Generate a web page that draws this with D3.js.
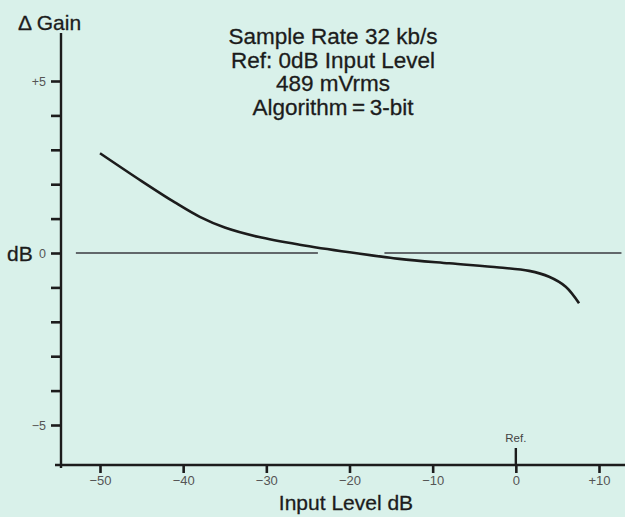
<!DOCTYPE html>
<html><head><meta charset="utf-8">
<script src="https://cdn.jsdelivr.net/npm/d3@7"></script>
<style>
html,body{margin:0;padding:0;background:#d9f1ea;}
svg{display:block;}
text{font-family:"Liberation Sans",Arial,Helvetica,sans-serif;}
</style></head>
<body>
<script>
// ---- data ----
const inputLevel = [-50, -45, -41, -38, -35, -31, -26, -20, -14, -8, -2, 1.6, 4, 6, 7.6];
const deltaGain  = [2.9, 2.09, 1.47, 1.05, 0.74, 0.47, 0.24, 0.02, -0.17, -0.3, -0.42, -0.52, -0.69, -0.98, -1.46];
const zeroSegments = [[-52.9, -23.8], [-15.8, 12.7]];
const xTicks = [-50, -40, -30, -20, -10, 0, 10];
const xTickLabels = ["\u221250", "\u221240", "\u221230", "\u221220", "\u221210", "0", "+10"];
const yTicks = [-5, -4, -3, -2, -1, 0, 1, 2, 3, 4, 5];
const yTickLabels = {"5": "+5", "0": "0", "-5": "\u22125"};
const titleLines = ["Sample Rate 32 kb/s", "Ref: 0dB Input Level", "489 mVrms", "Algorithm\u2009=\u20093-bit"];

// ---- layout ----
const W = 625, H = 517;
const svg = d3.select("body").append("svg").attr("width", W).attr("height", H);
svg.append("rect").attr("width", W).attr("height", H).attr("fill", "#d9f1ea");

const x = d3.scaleLinear().domain([-50, 10]).range([100, 599]);
const y = d3.scaleLinear().domain([-5, 5]).range([425, 81]);
const axisX = 61, axisY = 465;
const ink = "#1c1c1c";

// zero reference line
svg.selectAll("line.zero").data(zeroSegments).enter().append("line")
  .attr("x1", d => x(d[0])).attr("x2", d => x(d[1]))
  .attr("y1", y(0)).attr("y2", y(0))
  .attr("stroke", "#3a3a40").attr("stroke-width", 1.6);

// y axis
const yAxis = d3.axisLeft(y).tickValues(yTicks).tickSize(10).tickPadding(5)
  .tickFormat(d => yTickLabels[String(d)] || "");
const gy = svg.append("g").attr("transform", `translate(${axisX},0)`).call(yAxis);
gy.select(".domain").remove();
gy.selectAll(".tick line").attr("stroke", ink).attr("stroke-width", 2.6);
gy.selectAll(".tick text").attr("font-size", 12.5).attr("fill", "#555");
svg.append("line").attr("x1", axisX).attr("x2", axisX).attr("y1", 33).attr("y2", 468)
  .attr("stroke", ink).attr("stroke-width", 2.4);

// x axis
const xAxis = d3.axisBottom(x).tickValues(xTicks).tickSize(8).tickPadding(3)
  .tickFormat((d, i) => xTickLabels[i]);
const gx = svg.append("g").attr("transform", `translate(0,${axisY})`).call(xAxis);
gx.select(".domain").remove();
gx.selectAll(".tick line").attr("stroke", ink).attr("stroke-width", 2.6);
gx.selectAll(".tick text").attr("font-size", 13).attr("fill", "#555");
svg.append("line").attr("x1", 55).attr("x2", W).attr("y1", axisY).attr("y2", axisY)
  .attr("stroke", ink).attr("stroke-width", 2.4);

// Ref marker
svg.append("line").attr("x1", x(0)).attr("x2", x(0)).attr("y1", axisY - 17).attr("y2", axisY)
  .attr("stroke", ink).attr("stroke-width", 2.4);
svg.append("text").attr("x", x(0)).attr("y", 442).attr("text-anchor", "middle")
  .attr("font-size", 11.5).attr("fill", "#444").text("Ref.");

// curve
const pts = inputLevel.map((v, i) => [v, deltaGain[i]]);
svg.append("path").datum(pts)
  .attr("d", d3.line().x(d => x(d[0])).y(d => y(d[1])).curve(d3.curveCatmullRom.alpha(0.5)))
  .attr("fill", "none").attr("stroke", ink).attr("stroke-width", 2.6).attr("stroke-linecap", "butt");

// labels
const big = sel => sel.attr("fill", ink).attr("stroke", ink).attr("stroke-width", 0.3);
svg.append("text").attr("x", 18).attr("y", 30).attr("font-size", 21).text("\u0394 Gain").call(big);
svg.append("text").attr("x", 7).attr("y", 261).attr("font-size", 21).text("dB").call(big);
svg.append("text").attr("x", 346).attr("y", 510).attr("text-anchor", "middle")
  .attr("font-size", 21).text("Input Level dB").call(big);

svg.selectAll("text.title").data(titleLines).enter().append("text")
  .attr("class", "title")
  .attr("x", 333).attr("y", (d, i) => 44 + i * 23.5)
  .attr("text-anchor", "middle").attr("font-size", 22.5)
  .text(d => d).call(big);
</script>
</body></html>
